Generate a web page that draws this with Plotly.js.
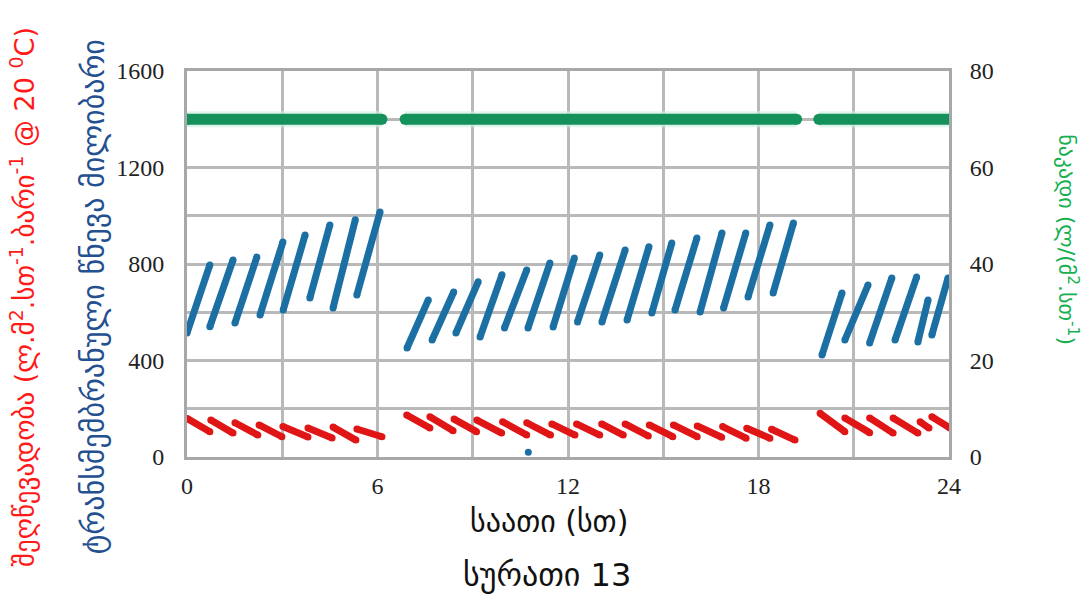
<!DOCTYPE html>
<html>
<head>
<meta charset="utf-8">
<script src="https://cdn.plot.ly/plotly-3.0.1.min.js"></script>
<style>html,body{margin:0;padding:0;background:#fff;}#chart{width:1092px;height:597px;}</style>
</head>
<body>
<div id="chart"></div>
<script>
// ---- Data (hours, values) ----
// Transmembrane pressure (mbar) sawtooth: each cycle start -> end
const tmpStartHour = [0.0, 0.72, 1.51, 2.30, 3.03, 3.87, 4.60, 5.35,
  6.93, 7.72, 8.47, 9.23, 10.00, 10.74, 11.53, 12.30, 13.07, 13.86, 14.64, 15.37, 16.16, 16.90, 17.67, 18.46,
  20.00, 20.72, 21.50, 22.30, 23.02, 23.46];
const tmpStartValue = [514, 540, 555, 589, 609, 659, 618, 672,
  452, 485, 514, 497, 535, 535, 539, 560, 560, 568, 597, 609, 601, 618, 663, 680,
  423, 485, 473, 485, 477, 506];
const tmpEndHour = [0.72, 1.45, 2.20, 3.02, 3.72, 4.50, 5.30, 6.08,
  7.60, 8.40, 9.17, 9.92, 10.70, 11.43, 12.20, 13.00, 13.80, 14.55, 15.27, 16.06, 16.85, 17.60, 18.36, 19.10,
  20.63, 21.45, 22.20, 22.98, 23.34, 23.97];
const tmpEndValue = [796, 817, 829, 891, 920, 962, 983, 1016,
  651, 684, 726, 755, 775, 804, 825, 837, 858, 872, 887, 908, 929, 929, 962, 970,
  680, 713, 742, 746, 651, 742];
const tmpOutlierHour = [10.75];
const tmpOutlierValue = [20];

// Permeability (L.m-2.h-1.bar-1 @ 20 C): each cycle start -> end
const permStartHour = [0.0, 0.75, 1.51, 2.27, 3.02, 3.81, 4.60, 5.35,
  6.92, 7.65, 8.41, 9.13, 9.94, 10.70, 11.49, 12.27, 13.06, 13.80, 14.56, 15.32, 16.07, 16.87, 17.63, 18.41,
  19.94, 20.72, 21.50, 22.24, 23.09, 23.46];
const permStartValue = [160, 153, 142, 133, 126, 120, 124, 116,
  174, 167, 157, 153, 146, 142, 137, 137, 137, 137, 133, 133, 129, 126, 119, 115,
  181, 162, 162, 162, 146, 167];
const permEndHour = [0.72, 1.45, 2.23, 2.99, 3.81, 4.57, 5.32, 6.14,
  7.65, 8.38, 9.12, 9.91, 10.70, 11.45, 12.22, 13.00, 13.74, 14.53, 15.30, 16.07, 16.84, 17.61, 18.36, 19.15,
  20.72, 21.50, 22.24, 23.02, 23.37, 24.03];
const permEndValue = [105, 99, 91, 84, 83, 79, 70, 84,
  120, 109, 105, 99, 91, 91, 91, 91, 91, 87, 84, 84, 82, 78, 78, 70,
  105, 101, 99, 99, 120, 120];

// Flux (L/(m2.h)) on right axis: run segments
const fluxStartHour = [0.0, 6.87, 19.90];
const fluxEndHour = [6.14, 19.20, 24.05];
const fluxValue = [70, 70, 70];

// Tick labels
const xTicks = [0, 6, 12, 18, 24];
const yLeftTicks = [0, 400, 800, 1200, 1600];
const yRightTicks = [0, 20, 40, 60, 80];

// ---- Build segment lines ----
function segs(sx, sv, ex, ev) {
  const x = [], y = [];
  for (let i = 0; i < sx.length; i++) {
    x.push(sx[i], ex[i], null);
    y.push(sv[i], ev[i], null);
  }
  return {x, y};
}
const tmp = segs(tmpStartHour, tmpStartValue, tmpEndHour, tmpEndValue);
const perm = segs(permStartHour, permStartValue, permEndHour, permEndValue);
const flux = segs(fluxStartHour, fluxValue, fluxEndHour, fluxValue);

const blue = '#1b6fa3', red = '#e01515', green = '#15925c';
const traces = [
  {x: flux.x, y: flux.y, yaxis: 'y2', mode: 'lines', line: {color: 'rgba(205,240,225,0.7)', width: 16}, hoverinfo: 'skip', showlegend: false},
  {x: tmp.x, y: tmp.y, mode: 'lines+markers', line: {color: blue, width: 7}, marker: {color: blue, size: 7}, name: 'TMP', showlegend: false},
  {x: tmpOutlierHour, y: tmpOutlierValue, mode: 'markers', marker: {color: blue, size: 7}, showlegend: false},
  {x: perm.x, y: perm.y, mode: 'lines+markers', line: {color: red, width: 7}, marker: {color: red, size: 7}, name: 'Permeability', showlegend: false},
  {x: flux.x, y: flux.y, yaxis: 'y2', mode: 'lines+markers', line: {color: green, width: 11}, marker: {color: green, size: 11}, name: 'Flux', showlegend: false}
];

const gridCol = '#b9b9b9';
const tickFont = {family: 'Liberation Serif, DejaVu Serif, serif', size: 24, color: '#222'};
const geoFont = 'DejaVu Sans, Noto Sans, sans-serif';

const layout = {
  width: 1092, height: 597,
  margin: {l: 187, r: 143, t: 71, b: 140},
  paper_bgcolor: '#fff', plot_bgcolor: '#fff',
  xaxis: {
    range: [0, 24], tickvals: xTicks, ticktext: xTicks.map(String),
    showgrid: true, gridcolor: gridCol, gridwidth: 3,
    minor: {dtick: 3, showgrid: true, gridcolor: gridCol, gridwidth: 3},
    showline: true, linecolor: '#a8a8a8', linewidth: 3, mirror: true,
    ticks: 'outside', ticklen: 5, tickcolor: 'rgba(0,0,0,0)',
    tickfont: tickFont, zeroline: false, fixedrange: true
  },
  yaxis: {
    range: [0, 1600], tickvals: yLeftTicks, ticktext: yLeftTicks.map(String),
    showgrid: true, gridcolor: gridCol, gridwidth: 3,
    minor: {dtick: 200, showgrid: true, gridcolor: gridCol, gridwidth: 3},
    showline: true, linecolor: '#a8a8a8', linewidth: 3, mirror: true,
    ticks: 'outside', ticklen: 15, tickcolor: 'rgba(0,0,0,0)',
    tickfont: tickFont, zeroline: false, fixedrange: true
  },
  yaxis2: {
    range: [0, 80], tickvals: yRightTicks, ticktext: yRightTicks.map(String),
    overlaying: 'y', side: 'right', showgrid: false, zeroline: false,
    ticks: 'outside', ticklen: 15, tickcolor: 'rgba(0,0,0,0)',
    tickfont: tickFont, fixedrange: true
  },
  annotations: [
    {text: 'შეღწევადობა (ლ.მ<sup>2</sup>.სთ<sup>-1</sup>.ბარი<sup>-1</sup> @ 20 <sup>0</sup>C)',
     xref: 'paper', yref: 'paper', x: -0.2165, y: 0.4145, textangle: -90, showarrow: false,
     xanchor: 'center', yanchor: 'middle', font: {family: geoFont, size: 27, color: '#ff1a1a'}},
    {text: 'ტრანსმემბრანული წნევა მილიბარი',
     xref: 'paper', yref: 'paper', x: -0.123, y: 0.4145, textangle: -90, showarrow: false,
     xanchor: 'center', yanchor: 'middle', font: {family: geoFont, size: 30, color: '#24508f'}},
    {text: 'ნაკადი (ლ/(მ<sup>2</sup>.სთ<sup>-1</sup>)',
     xref: 'paper', yref: 'paper', x: 1.156, y: 0.562, textangle: 90, showarrow: false,
     xanchor: 'center', yanchor: 'middle', font: {family: geoFont, size: 22, color: '#16b050'}},
    {text: 'საათი (სთ)', xref: 'paper', yref: 'paper', x: 0.475, y: -0.168, showarrow: false,
     xanchor: 'center', yanchor: 'middle', font: {family: geoFont, size: 30, color: '#111'}},
    {text: 'სურათი 13', xref: 'paper', yref: 'paper', x: 0.472, y: -0.306, showarrow: false,
     xanchor: 'center', yanchor: 'middle', font: {family: geoFont, size: 32, color: '#111'}}
  ]
};

Plotly.newPlot('chart', traces, layout, {displayModeBar: false, staticPlot: true});
</script>
</body>
</html>
